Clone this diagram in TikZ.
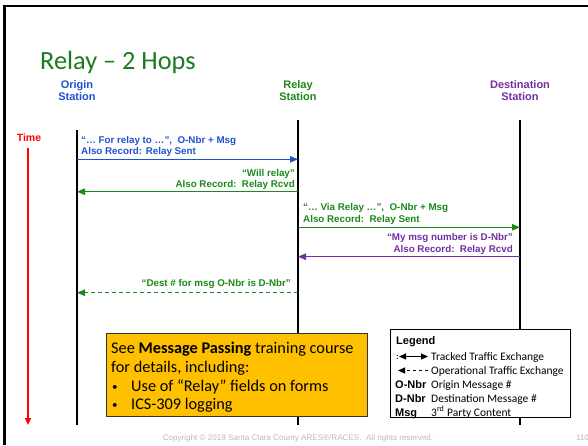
\documentclass[tikz,border=0pt]{standalone}
\usepackage{fontspec}
\setmainfont{Liberation Sans}
\newfontfamily\calibri{Carlito}
\usetikzlibrary{arrows.meta,positioning}

\definecolor{titlegreen}{RGB}{28,122,28}
\definecolor{msgblue}{RGB}{31,80,206}
\definecolor{msggreen}{RGB}{26,136,26}
\definecolor{msgpurple}{RGB}{112,48,160}
\definecolor{boxgold}{RGB}{255,192,0}
\definecolor{footgray}{RGB}{185,185,185}

\tikzset{
  station/.style={font=\fontsize{11}{12.6}\selectfont\bfseries, align=center, inner sep=0pt},
  msglbl/.style={font=\fontsize{9.8}{11.6}\selectfont\bfseries, inner sep=0pt},
  lifeline/.style={line width=2.4pt},
  hop/.style={-{Triangle[length=8pt,width=6.5pt]}, line width=0.9pt},
  legtext/.style={font=\calibri\fontsize{11.5}{13}\selectfont, inner sep=0pt, anchor=base west},
  legkey/.style={font=\fontsize{11}{13}\selectfont\bfseries, inner sep=0pt, anchor=base west},
  legtip/.style={line width=0.9pt},
}
\newcommand{\notebullet}{\makebox[19pt][l]{\raisebox{0.5pt}{\fontsize{11}{11}\selectfont•}}}

\begin{document}
\begin{tikzpicture}[x=1pt, y=-1pt]
    \useasboundingbox (0,0) rectangle (588,445);

    % slide frame
    \draw[line width=2.5pt] (4.5,445) -- (4.5,6) -- (588,6);

    \node[anchor=base west, inner sep=0pt, text=titlegreen,
          font=\calibri\fontsize{26.3}{30}\selectfont] (title) at (40,69.5) {Relay – 2 Hops};

    % stations
    \node[station, text=msgblue, anchor=base] (origin) at (77,100.7) {Origin\\Station};
    \node[station, text=msggreen, anchor=base] (relay) at (298,100.7) {Relay\\Station};
    \node[station, text=msgpurple, anchor=base] (dest) at (520,100.7) {Destination\\Station};

    \coordinate (oTop) at (77,130);  \coordinate (oBot) at (77,425);
    \coordinate (rTop) at (298,120); \coordinate (rBot) at (298,425);
    \coordinate (dTop) at (520,120); \coordinate (dBot) at (520,425);
    \draw[lifeline] (oTop) -- (oBot);
    \draw[lifeline] (rTop) -- (rBot);
    \draw[lifeline] (dTop) -- (dBot);

    % time axis
    \node[anchor=base, inner sep=0pt, text=red, font=\fontsize{10.5}{12}\selectfont\bfseries] (time) at (29,141) {Time};
    \coordinate (tTop) at (28,148); \coordinate (tBot) at (28,425);
    \draw[red, line width=2pt, -{Triangle[length=7pt,width=6pt]}] (tTop) -- (tBot);

    % hops
    \coordinate (o1) at (77,159.3);  \coordinate (r1) at (298,159.3);
    \coordinate (r2) at (298,191.7); \coordinate (o2) at (77,191.7);
    \coordinate (r3) at (298,227.3); \coordinate (d3) at (520,227.3);
    \coordinate (d4) at (520,256.7); \coordinate (r4) at (298,256.7);
    \coordinate (r5) at (298,292.7); \coordinate (o5) at (77,292.7);

    \draw[hop, msgblue] (o1) -- (r1);
    \draw[hop, msggreen] (r2) -- (o2);
    \draw[hop, msggreen] (r3) -- (d3);
    \draw[hop, msgpurple] (d4) -- (r4);
    \draw[hop, msggreen, dashed, dash pattern=on 4pt off 3pt] (r5) -- (o5);

    \node[msglbl, text=msgblue, anchor=base west] (m1a) at (81,143.3) {“… For relay to …”,\ \ O-Nbr + Msg};
    \node[msglbl, text=msgblue, anchor=base west] (m1b) at (81,154.8) {Also Record: Relay Sent};
    \node[msglbl, text=msggreen, anchor=base east] (m2a) at (295,176) {“Will relay”};
    \node[msglbl, text=msggreen, anchor=base east] (m2b) at (295,187.6) {Also Record:\ \ Relay Rcvd};
    \node[msglbl, text=msggreen, anchor=base west] (m3a) at (303,210.7) {“… Via Relay …”,\ \ O-Nbr + Msg};
    \node[msglbl, text=msggreen, anchor=base west] (m3b) at (303,222.6) {Also Record:\ \ Relay Sent};
    \node[msglbl, text=msgpurple, anchor=base east] (m4a) at (513,240.7) {“My msg number is D-Nbr”};
    \node[msglbl, text=msgpurple, anchor=base east] (m4b) at (513,252.5) {Also Record:\ \ Relay Rcvd};
    \node[msglbl, text=msggreen, anchor=base east] (m5) at (291,286.8) {“Dest \# for msg O-Nbr is D-Nbr”};

    % course note
    \node[draw=black!80, line width=0.8pt, fill=boxgold, anchor=north west,
          minimum width=261pt, minimum height=83pt, inner sep=0pt] (note) at (106,333) {};
    \begin{scope}[every node/.style={font=\calibri\fontsize{16.3}{19}\selectfont, inner sep=0pt, anchor=base west}]
      \node (n1) at (111,353) {See \textbf{Message Passing} training course};
      \node (n2) at (111,372.5) {for details, including:};
      \node (n3) at (112,391) {\notebullet Use of “Relay” fields on forms};
      \node (n4) at (112,409) {\notebullet ICS-309 logging};
    \end{scope}

    % legend
    \node[draw, line width=1.3pt, fill=white, anchor=north west,
          minimum width=180pt, minimum height=88pt, inner sep=0pt] (legend) at (390,329) {};
    \node[legkey] (lgHead) at (396,344.5) {Legend};
    \node[legkey, font=\fontsize{8}{10}\selectfont\bfseries] (lgColon) at (396,359) {:};
    \coordinate (kA1) at (399,356.5); \coordinate (kA2) at (428,356.5);
    \draw[legtip, {Triangle[length=7pt,width=6pt]}-{Triangle[length=7pt,width=6pt]}] (kA1) -- (kA2);
    \coordinate (kB1) at (428,370.5); \coordinate (kB2) at (398,370.5);
    \draw[legtip, dash pattern=on 3pt off 3pt, -{Triangle[length=7pt,width=6pt]}] (kB1) -- (kB2);
    \node[legtext] (lgT) at (431,360) {Tracked Traffic Exchange};
    \node[legtext] (lgO) at (431,374) {Operational Traffic Exchange};
    \node[legkey] (lgK1) at (395,388.5) {O-Nbr};
    \node[legtext] (lgV1) at (431,388.5) {Origin Message \#};
    \node[legkey] (lgK2) at (395,402.5) {D-Nbr};
    \node[legtext] (lgV2) at (431,402.5) {Destination Message \#};
    \node[legkey] (lgK3) at (395,416) {Msg};
    \node[legtext] (lgV3) at (431,416) {3\textsuperscript{rd} Party Content};

    % footer
    \node[anchor=base, inner sep=0pt, text=footgray, font=\fontsize{8.1}{9}\selectfont] (copy) at (298,440)
      {Copyright © 2019 Santa Clara County ARES®/RACES.\ \ All rights reserved.};
    \node[anchor=base east, inner sep=0pt, text=footgray, font=\fontsize{8}{9}\selectfont] (page) at (589,440) {110};
\end{tikzpicture}
\end{document}
